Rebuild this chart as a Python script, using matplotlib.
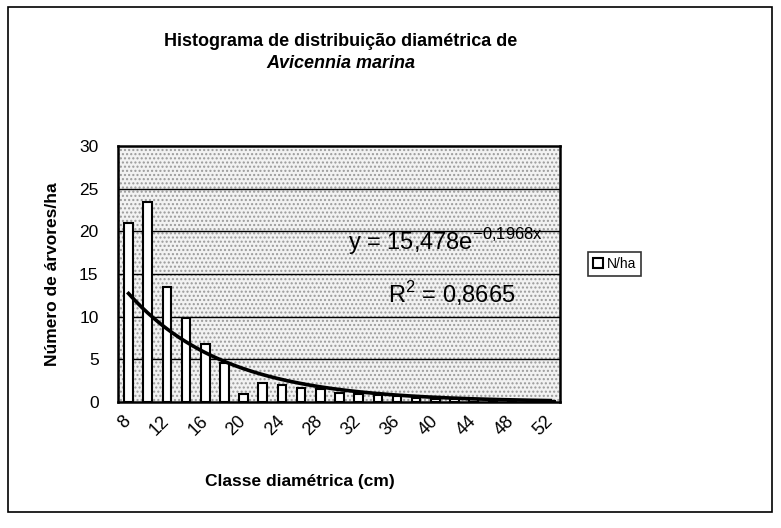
import matplotlib.pyplot as plt
import numpy as np
from matplotlib.patches import Rectangle

plt.rcParams['font.family'] = ['Liberation Sans', 'DejaVu Sans']
plt.rcParams['hatch.linewidth'] = 1.0

# ---------- data ----------
classes = [8, 10, 12, 14, 16, 18, 20, 22, 24, 26, 28, 30,
           32, 34, 36, 38, 40, 42, 44, 46, 48, 50, 52]
n_ha = [21.0, 23.4, 13.5, 9.8, 6.8, 4.6, 0.9, 2.2, 2.0, 1.6, 1.5, 1.0,
        0.9, 0.8, 0.7, 0.5, 0.4, 0.3, 0.4, 0.2, 0.1, 0.1, 0.1]
tick_labels = [str(c) if i % 2 == 0 else '' for i, c in enumerate(classes)]

# Excel exponential trendline (x = category index 1..n)
trend_a = 15.478
trend_b = -0.1968
r2_text = '0,8665'

# ---------- figure ----------
fig = plt.figure(figsize=(7.81, 5.28), dpi=100)
ax = fig.add_axes([118 / 781, 1 - 402 / 528, (560 - 118) / 781, (402 - 146) / 528])

idx = np.arange(1, len(classes) + 1)

# stippled plot background
ax.set_facecolor('#f2f2f2')
ax.add_patch(Rectangle((0, 0), 1, 1, transform=ax.transAxes, facecolor='none',
                       edgecolor='#9a9a9a', hatch='....', lw=0, zorder=0))

# gridlines
for g in [5, 10, 15, 20, 25]:
    ax.axhline(g, color='black', lw=1.0, zorder=1)

# bars
bars = ax.bar(idx, n_ha, width=0.45, color='white', edgecolor='black',
              linewidth=1.5, zorder=2, label='N/ha')

# trendline
xt = np.linspace(1, len(classes), 200)
ax.plot(xt, trend_a * np.exp(trend_b * xt), color='black', lw=2.6, zorder=3)

# equation + R2
ax.text(0.52, 0.625, r'y = 15,478e$^{\mathregular{-0{,}1968x}}$', transform=ax.transAxes,
        fontsize=17, ha='left', va='center', zorder=4)
ax.text(0.61, 0.425, r'R$^{\mathregular{2}}$ = ' + r2_text, transform=ax.transAxes,
        fontsize=17, ha='left', va='center', zorder=4)

ax.set_xlim(0.45, len(classes) + 0.5)
ax.set_ylim(0, 30)
ax.set_yticks([0, 5, 10, 15, 20, 25, 30])
ax.set_xticks(idx)
ax.set_xticklabels(tick_labels, rotation=45, ha='right', va='center',
                   rotation_mode='anchor', fontsize=13)
ax.tick_params(axis='x', length=0, pad=12)
ax.tick_params(axis='y', length=0, pad=14, labelsize=12.5)
for sp in ax.spines.values():
    sp.set_linewidth(1.8)

ax.set_ylabel('Número de árvores/ha', fontsize=12.5, fontweight='bold', labelpad=14)
ax.set_xlabel('Classe diamétrica (cm)', fontsize=12.5, fontweight='bold')
ax.xaxis.set_label_coords((300 - 118) / 442, -(474 - 402) / 256)

# title
fig.text(341 / 781, 1 - 41 / 528, 'Histograma de distribuição diamétrica de',
         ha='center', va='center', fontsize=13, fontweight='bold')
fig.text(341 / 781, 1 - 64 / 528, 'Avicennia marina', ha='center', va='center',
         fontsize=13, fontweight='bold', style='italic')

# legend
leg = fig.legend(handles=[bars], labels=['N/ha'], loc='center left',
                 bbox_to_anchor=(588 / 781, 1 - 264 / 528), fontsize=10,
                 frameon=True, fancybox=False, handlelength=0.7, handleheight=0.7,
                 handletextpad=0.3, borderpad=0.35, borderaxespad=0)
leg.get_frame().set_edgecolor('black')
leg.get_frame().set_linewidth(1.2)

# outer chart border
fig.add_artist(Rectangle((8 / 781, 1 - 512 / 528), (772 - 8) / 781, (512 - 7) / 528,
                         transform=fig.transFigure, fill=False, edgecolor='black', lw=1.2))

fig.savefig('out.png', dpi=100)
